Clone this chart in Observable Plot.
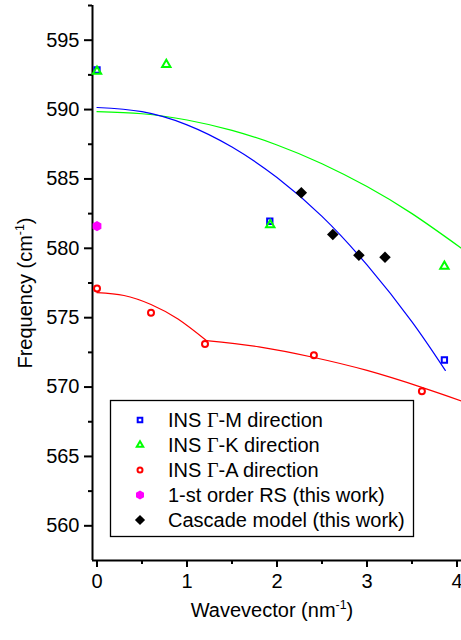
<!DOCTYPE html>
<html><head><meta charset="utf-8">
<script src="https://cdn.jsdelivr.net/npm/d3@7"></script>
<script src="https://cdn.jsdelivr.net/npm/@observablehq/plot@0.6"></script>
<style>body{margin:0;background:#fff} #chart{width:461px;height:640px}</style>
</head><body><div id="chart"></div>
<script>
// ---- data ----
const gmX = [0, 1.92, 3.86];
const gmY = [592.85, 581.95, 571.95];
const gkX = [0, 0.77, 1.925, 3.86];
const gkY = [592.75, 593.25, 581.7, 578.7];
const gaX = [0, 0.60, 1.20, 2.41, 3.61];
const gaY = [577.1, 575.35, 573.1, 572.3, 569.7];
const rsX = [0];
const rsY = [581.6];
const cascX = [2.27, 2.62, 2.91, 3.20];
const cascY = [584.0, 581.0, 579.5, 579.35];
// fitted curves
const fitMX = [0, 0.5, 1, 1.5, 2, 2.5, 3, 3.5, 3.87];
const fitMY = [590.15, 589.85, 588.9, 587.3, 585.1, 582.3, 578.8, 574.7, 571.2];
const fitKX = [0, 0.5, 1, 1.5, 2, 2.5, 3, 3.5, 4.05];
const fitKY = [589.85, 589.7, 589.25, 588.5, 587.45, 586.1, 584.45, 582.5, 580.0];
const fitA1X = [0, 0.3, 0.6, 0.9, 1.215];
const fitA1Y = [576.8, 576.6, 575.95, 574.9, 573.35];
const fitA2X = [1.215, 1.8, 2.4, 3.0, 3.6, 4.05];
const fitA2Y = [573.35, 572.9, 572.15, 571.2, 570.0, 569.0];
// axes
const xDomain = [-0.05, 4.05];
const yDomain = [557.5, 597.5];
const xTicks = [0, 1, 2, 3, 4];
const xMinor = [0.5, 1.5, 2.5, 3.5];
const yTicks = [560, 565, 570, 575, 580, 585, 590, 595];
const yMinor = [562.5, 567.5, 572.5, 577.5, 582.5, 587.5, 592.5, 597.5];
// legend
const legendPre = ["INS ", "INS ", "INS ", "1-st order RS (this work)", "Cascade model (this work)"];
const legendGreek = ["\u0393", "\u0393", "\u0393", "", ""];
const legendPost = ["-M direction", "-K direction", "-A direction", "", ""];

const zip = (xs, ys) => xs.map((x, i) => ({x, y: ys[i]}));
const FONT = "'Liberation Sans', Arial, sans-serif";
const FS = 20;

const plot = Plot.plot({
  width: 461, height: 640,
  marginLeft: 92, marginRight: 0, marginTop: 5, marginBottom: 80,
  style: {fontFamily: FONT, fontSize: FS + "px", color: "#000", background: "#fff", overflow: "visible"},
  x: {domain: xDomain},
  y: {domain: yDomain},
  marks: [
    Plot.axisY({ticks: yTicks, tickSize: 8, tickPadding: 5, strokeWidth: 2, tickFormat: d3.format("d"), label: null}),
    Plot.axisY({ticks: yMinor, tickSize: 4, strokeWidth: 2, tickFormat: () => "", label: null}),
    Plot.axisX({ticks: xTicks, tickSize: 7, tickPadding: 6, strokeWidth: 2, tickFormat: d3.format("d"), label: null}),
    Plot.axisX({ticks: xMinor, tickSize: 4, strokeWidth: 2, tickFormat: () => "", label: null}),
    Plot.ruleX([xDomain[0]], {strokeWidth: 2}),
    Plot.ruleY([yDomain[0]], {strokeWidth: 2}),
    Plot.line(zip(fitKX, fitKY), {x: "x", y: "y", stroke: "#00ff00", strokeWidth: 1.2, curve: "natural"}),
    Plot.line(zip(fitMX, fitMY), {x: "x", y: "y", stroke: "#0000ff", strokeWidth: 1.2, curve: "natural"}),
    Plot.line(zip(fitA1X, fitA1Y), {x: "x", y: "y", stroke: "#ff0000", strokeWidth: 1.2, curve: "natural"}),
    Plot.line(zip(fitA2X, fitA2Y), {x: "x", y: "y", stroke: "#ff0000", strokeWidth: 1.2, curve: "natural"}),
    Plot.dot(zip(gmX, gmY), {x: "x", y: "y", symbol: "square", r: 3, fill: "none", stroke: "#0000ff", strokeWidth: 2}),
    Plot.dot(zip(gkX, gkY), {x: "x", y: "y", symbol: "triangle", r: 3.1, fill: "none", stroke: "#00ff00", strokeWidth: 2}),
    Plot.dot(zip(gaX, gaY), {x: "x", y: "y", symbol: "circle", r: 3, fill: "none", stroke: "#ff0000", strokeWidth: 2}),
    Plot.dot(zip(rsX, rsY), {x: "x", y: "y", symbol: "hexagon", r: 4.4, fill: "#ff00ff", stroke: "none"}),
    Plot.dot(zip(cascX, cascY), {x: "x", y: "y", symbol: "diamond2", r: 5.2, fill: "#000", stroke: "none"})
  ]
});
document.getElementById("chart").appendChild(plot);

const svg = d3.select(plot);
// axis titles
const xl = svg.append("text").attr("x", 272).attr("y", 617).attr("text-anchor", "middle")
  .attr("font-family", FONT).attr("font-size", FS).attr("fill", "#000");
xl.append("tspan").text("Wavevector (nm");
xl.append("tspan").attr("font-size", FS * 0.62).attr("dy", -8).text("-1");
xl.append("tspan").attr("dy", 8).text(")");
const yl = svg.append("text").attr("transform", "translate(32,293) rotate(-90)").attr("text-anchor", "middle")
  .attr("font-family", FONT).attr("font-size", FS).attr("fill", "#000");
yl.append("tspan").text("Frequency (cm");
yl.append("tspan").attr("font-size", FS * 0.62).attr("dy", -8).text("-1");
yl.append("tspan").attr("dy", 8).text(")");

// legend
const lg = svg.append("g").attr("text-anchor", "start");
lg.append("rect").attr("x", 110.5).attr("y", 400.5).attr("width", 303).attr("height", 136)
  .attr("fill", "#fff").attr("stroke", "#000").attr("stroke-width", 1.3);
const hexagon = {draw(ctx, size) {const rx = Math.sqrt(size / Math.PI), ry = rx * Math.sqrt(4 / 3), hy = ry / 2;
  ctx.moveTo(0, ry); ctx.lineTo(rx, hy); ctx.lineTo(rx, -hy); ctx.lineTo(0, -ry); ctx.lineTo(-rx, -hy); ctx.lineTo(-rx, hy); ctx.closePath();}};
const legSym = [
  {type: d3.symbolSquare, r: 2.6, fill: "none", stroke: "#0000ff"},
  {type: d3.symbolTriangle, r: 2.4, fill: "none", stroke: "#00ff00"},
  {type: d3.symbolCircle, r: 2.5, fill: "none", stroke: "#ff0000"},
  {type: hexagon, r: 4.0, fill: "#ff00ff", stroke: "none"},
  {type: d3.symbolDiamond2, r: 4.6, fill: "#000", stroke: "none"}
];
legendPre.forEach((t, i) => {
  const cy = 420 + i * 25;
  const s = legSym[i];
  lg.append("path").attr("transform", `translate(140,${cy})`)
    .attr("d", d3.symbol(s.type, Math.PI * s.r * s.r)())
    .attr("fill", s.fill).attr("stroke", s.stroke).attr("stroke-width", 2);
  const tx = lg.append("text").attr("x", 168).attr("y", cy).attr("dy", "0.35em").attr("text-anchor", "start")
    .attr("font-family", FONT).attr("font-size", FS).attr("fill", "#000");
  tx.append("tspan").text(t);
  if (legendGreek[i]) {
    tx.append("tspan").attr("font-family", "'Liberation Serif', 'Times New Roman', serif").text(legendGreek[i]);
    tx.append("tspan").text(legendPost[i]);
  }
});
</script>
</body></html>
